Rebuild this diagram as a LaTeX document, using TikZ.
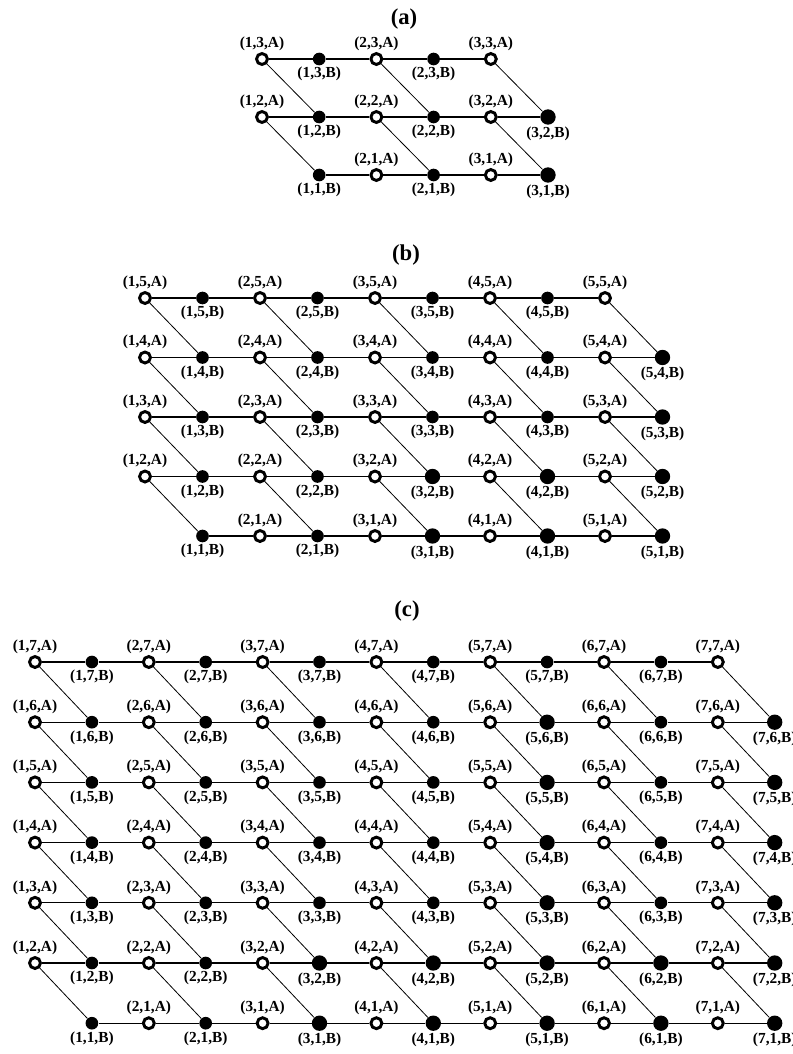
\documentclass[tikz,border=0pt]{standalone}
\usepackage{fontspec}
\setmainfont{Liberation Serif}
\usetikzlibrary{calc}

% one lattice: #1 name, #2 size, #3 left x, #4 top y, #5 half step, #6 row step
\newcommand{\drawlattice}[6]{%
  \foreach \i in {1,...,#2}{%
    \foreach \j in {1,...,#2}{%
      \pgfmathsetmacro{\xa}{#3+(2*\i-2)*#5}%
      \pgfmathsetmacro{\xb}{#3+(2*\i-1)*#5}%
      \pgfmathsetmacro{\yc}{#4+(#2-\j)*#6}%
      \pgfmathtruncatemacro{\noA}{(\i==1)&&(\j==1)}%
      \pgfmathtruncatemacro{\noB}{(\i==#2)&&(\j==#2)}%
      \ifnum\noA=0
        \node[siteA,label={[lbl]above:{(\i,\j,A)}}] (#1A\i-\j) at (\xa,\yc) {};
      \fi
      \ifnum\noB=0
        \ifcsname big@#1@\i @\j\endcsname
          \node[siteB,bigB,label={[lbl]below:{(\i,\j,B)}}] (#1B\i-\j) at (\xb,\yc) {};
        \else
          \node[siteB,label={[lbl]below:{(\i,\j,B)}}] (#1B\i-\j) at (\xb,\yc) {};
        \fi
      \fi
    }%
  }%
  % bonds
  \foreach \i in {1,...,#2}{%
    \foreach \j in {1,...,#2}{%
      \pgfmathtruncatemacro{\skipAB}{((\i==1)&&(\j==1))||((\i==#2)&&(\j==#2))}%
      \ifnum\skipAB=0 \draw[bond] (#1A\i-\j) -- (#1B\i-\j); \fi
      \ifnum\i<#2 \pgfmathtruncatemacro{\ii}{\i+1}\draw[bond] (#1B\i-\j) -- (#1A\ii-\j); \fi
      \ifnum\j>1 \pgfmathtruncatemacro{\jj}{\j-1}\draw[diag] (#1A\i-\j) -- (#1B\i-\jj); \fi
    }%
  }%
}
% B sites drawn a little larger
\newcommand{\markbig}[2]{%
  \foreach \bi/\bj in {#2}{\expandafter\xdef\csname big@#1@\bi @\bj\endcsname{}}}

\begin{document}
\begin{tikzpicture}[
  x=0.75pt,y=-0.75pt,
  font=\bfseries,
  siteA/.style={circle,draw,line width=2.2pt,fill=white,inner sep=0pt,minimum size=8.2pt},
  siteB/.style={circle,fill=black,inner sep=0pt,minimum size=9.5pt},
  bigB/.style={minimum size=11.5pt},
  lbl/.style={font=\fontsize{11.5}{12}\bfseries\selectfont,inner sep=0pt,label distance=1pt},
  title/.style={font=\fontsize{17}{18}\bfseries\selectfont,inner sep=0pt},
  bond/.style={line width=0.9pt},
  diag/.style={line width=0.6pt}
]
\useasboundingbox (0,0) rectangle (793,1054);

\markbig{a}{3/2,3/1}
\markbig{b}{3/2,3/1,4/2,4/1,5/4,5/3,5/2,5/1}
\markbig{c}{3/2,3/1,4/2,4/1,5/6,5/5,5/4,5/3,5/2,5/1,6/2,6/1,7/6,7/5,7/4,7/3,7/2,7/1}

\node[title] (tita) at (404,19) {(a)};
\drawlattice{a}{3}{262}{59}{57.2}{58}

\node[title] (titb) at (406,255) {(b)};
\drawlattice{b}{5}{145}{298}{57.5}{59.5}

\node[title] (titc) at (407,611) {(c)};
\drawlattice{c}{7}{35}{662}{56.9}{60.2}
\end{tikzpicture}
\end{document}
